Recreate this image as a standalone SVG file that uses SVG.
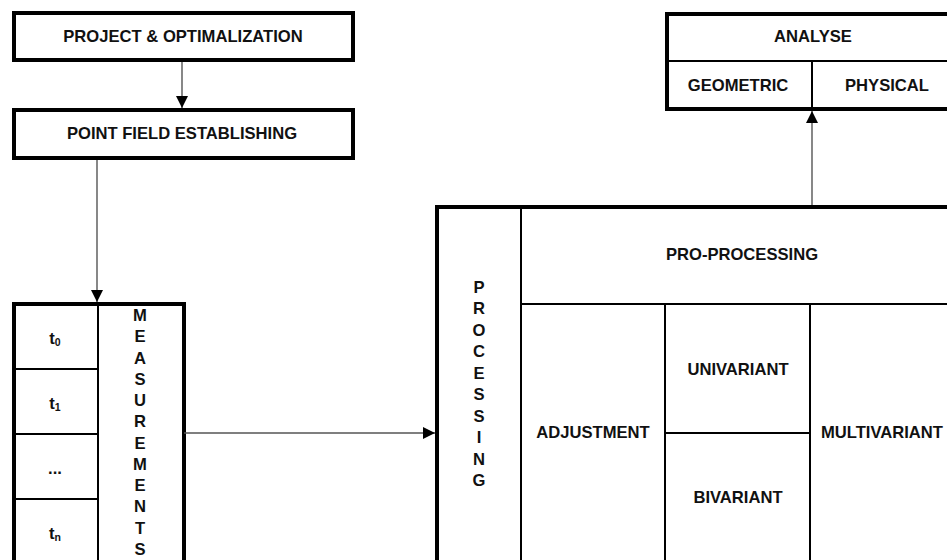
<svg xmlns="http://www.w3.org/2000/svg" width="947" height="560" viewBox="0 0 947 560">
<style>
.box{fill:#fff;stroke:#000;stroke-width:4}
.div{stroke:#000;stroke-width:2;fill:none}
.t{font-family:"Liberation Sans",Arial,sans-serif;font-weight:bold;font-size:16.6px;fill:#111;text-anchor:middle}
.sub{font-size:10.5px}
.conn{stroke:#555;stroke-width:1.4;fill:none}
</style>
<defs>
<marker id="ah" markerUnits="userSpaceOnUse" markerWidth="12" markerHeight="12" refX="12" refY="6" orient="auto">
<path d="M0,0 L12,6 L0,12 Z" fill="#000"/>
</marker>
</defs>
<rect width="947" height="560" fill="#fff"/>
<g id="project">
<rect class="box" x="14" y="13" width="339" height="47"/>
<text class="t" x="183" y="42">PROJECT &amp; OPTIMALIZATION</text>
</g>
<g id="pointfield">
<rect class="box" x="14" y="110" width="339" height="48"/>
<text class="t" x="182" y="139">POINT FIELD ESTABLISHING</text>
</g>
<g id="analyse">
<rect class="box" x="667" y="14" width="300" height="95"/>
<line class="div" x1="667" y1="61" x2="947" y2="61"/>
<line class="div" x1="812" y1="61" x2="812" y2="109"/>
<text class="t" x="813" y="42">ANALYSE</text>
<text class="t" x="738" y="91">GEOMETRIC</text>
<text class="t" x="887" y="91">PHYSICAL</text>
</g>
<g id="measurements">
<rect class="box" x="14" y="304" width="170" height="300"/>
<line class="div" x1="98" y1="304" x2="98" y2="560"/>
<line class="div" x1="14" y1="369" x2="98" y2="369"/>
<line class="div" x1="14" y1="434" x2="98" y2="434"/>
<line class="div" x1="14" y1="499" x2="98" y2="499"/>
<text class="t" x="55" y="344">t<tspan class="sub" dy="2">0</tspan></text>
<text class="t" x="55" y="409">t<tspan class="sub" dy="2">1</tspan></text>
<text class="t" x="55" y="474">...</text>
<text class="t" x="55" y="539">t<tspan class="sub" dy="2">n</tspan></text>
<text class="t" x="140" y="321">M</text>
<text class="t" x="140" y="342.2">E</text>
<text class="t" x="140" y="363.5">A</text>
<text class="t" x="140" y="384.7">S</text>
<text class="t" x="140" y="406">U</text>
<text class="t" x="140" y="427.2">R</text>
<text class="t" x="140" y="448.5">E</text>
<text class="t" x="140" y="469.7">M</text>
<text class="t" x="140" y="491">E</text>
<text class="t" x="140" y="512.2">N</text>
<text class="t" x="140" y="533.5">T</text>
<text class="t" x="140" y="554.7">S</text>
</g>
<g id="processing">
<rect class="box" x="437" y="207" width="600" height="400"/>
<line class="div" x1="521" y1="207" x2="521" y2="560"/>
<line class="div" x1="521" y1="304" x2="947" y2="304"/>
<line class="div" x1="665" y1="304" x2="665" y2="560"/>
<line class="div" x1="810" y1="304" x2="810" y2="560"/>
<line class="div" x1="665" y1="433" x2="810" y2="433"/>
<text class="t" x="479" y="292.5">P</text>
<text class="t" x="479" y="314">R</text>
<text class="t" x="479" y="335.5">O</text>
<text class="t" x="479" y="357">C</text>
<text class="t" x="479" y="378.5">E</text>
<text class="t" x="479" y="400">S</text>
<text class="t" x="479" y="421.5">S</text>
<text class="t" x="479" y="443">I</text>
<text class="t" x="479" y="464.5">N</text>
<text class="t" x="479" y="486">G</text>
<text class="t" x="742" y="260">PRO-PROCESSING</text>
<text class="t" x="593" y="438">ADJUSTMENT</text>
<text class="t" x="738" y="375">UNIVARIANT</text>
<text class="t" x="738" y="503">BIVARIANT</text>
<text class="t" x="882" y="438">MULTIVARIANT</text>
</g>
<g id="connectors">
<line class="conn" x1="182" y1="62" x2="182" y2="108" marker-end="url(#ah)"/>
<line class="conn" x1="97" y1="160" x2="97" y2="302" marker-end="url(#ah)"/>
<line class="conn" x1="184" y1="433" x2="435" y2="433" marker-end="url(#ah)"/>
<line class="conn" x1="812" y1="205" x2="812" y2="111" marker-end="url(#ah)"/>
</g>
</svg>
